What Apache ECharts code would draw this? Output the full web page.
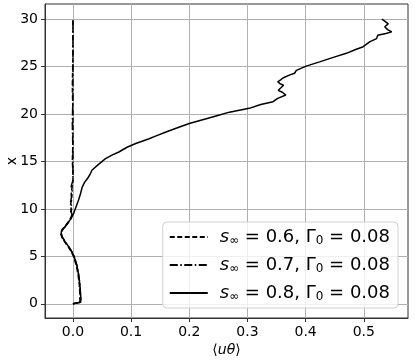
<!DOCTYPE html>
<html>
<head>
<meta charset="utf-8">
<script src="https://cdn.jsdelivr.net/npm/echarts@6/dist/echarts.min.js"></script>
<style>
  html, body { margin: 0; padding: 0; background: #fff; }
  #chart { width: 415px; height: 363px; }
</style>
</head>
<body>
<div id="chart"></div>
<script>
// tick labels
var xTicks = [0, 0.1, 0.2, 0.3, 0.4, 0.5];
var yTicks = [0, 5, 10, 15, 20, 25, 30];

// s_inf = 0.8 (solid): height x and <u theta>
var hS08 = [0, 0.15, 0.5, 1, 2, 3, 4, 5, 5.5, 6, 6.5, 7, 7.3, 7.6, 8, 8.5, 9, 9.5, 10, 10.5, 11, 11.6, 12.3, 12.8, 13.2, 13.6, 14.1, 14.7, 15.3, 15.7, 16.0, 16.5, 16.9, 17.4, 17.7, 18.1, 18.6, 19.0, 19.4, 19.8, 20.2, 20.6, 21.0, 21.3, 21.65, 22.0, 22.3, 22.5, 22.8, 23.05, 23.2, 23.4, 23.6, 23.8, 24.1, 24.3, 24.6, 25.05, 25.5, 26.0, 26.4, 26.8, 27.1, 27.6, 27.95, 28.3, 28.5, 28.66, 28.9, 29.2, 29.5, 29.8, 30.0];
var uS08 = [0.0, 0.013, 0.014, 0.013, 0.012, 0.010, 0.007, 0.002, -0.002, -0.007, -0.013, -0.018, -0.020, -0.020, -0.015, -0.009, -0.003, 0.001, 0.004, 0.007, 0.010, 0.013, 0.016, 0.020, 0.025, 0.029, 0.033, 0.044, 0.056, 0.068, 0.079, 0.093, 0.108, 0.131, 0.143, 0.160, 0.182, 0.200, 0.223, 0.246, 0.269, 0.303, 0.323, 0.344, 0.352, 0.366, 0.360, 0.353, 0.358, 0.362, 0.356, 0.352, 0.357, 0.361, 0.372, 0.381, 0.384, 0.401, 0.424, 0.449, 0.470, 0.486, 0.499, 0.510, 0.522, 0.524, 0.538, 0.548, 0.541, 0.536, 0.542, 0.536, 0.531];

// s_inf = 0.6 (dashed)
var hS06 = [0, 0.15, 1, 2, 3, 4, 5, 5.5, 6, 6.5, 7, 7.4, 7.8, 8.3, 8.8, 9.3, 9.6, 10, 10.5, 11, 11.5, 12, 12.5, 13, 14, 15, 17, 20, 23, 26, 28, 30];
var uS06 = [0.0, 0.012, 0.012, 0.011, 0.009, 0.006, 0.001, -0.003, -0.008, -0.014, -0.019, -0.021, -0.019, -0.012, -0.006, -0.002, -0.004, -0.003, -0.004, -0.002, -0.003, -0.002, -0.001, 0.0, 0.0, -0.001, 0.0, 0.0, -0.001, 0.0, 0.0, 0.0];

// s_inf = 0.7 (dash-dot)
var hS07 = [0, 0.15, 1, 2, 3, 4, 5, 5.5, 6, 6.5, 7, 7.4, 7.8, 8.3, 8.8, 9.3, 9.7, 10.2, 10.8, 11.3, 11.8, 12.4, 13, 14, 16, 19, 22, 25, 28, 30];
var uS07 = [0.0, 0.013, 0.013, 0.012, 0.010, 0.007, 0.002, -0.002, -0.007, -0.013, -0.018, -0.020, -0.018, -0.011, -0.005, -0.001, -0.003, -0.002, -0.004, -0.002, -0.001, -0.003, 0.0, 0.0, 0.0, -0.001, 0.0, 0.0, 0.0, 0.0];

var names = ['s06', 's07', 's08'];
var labels = { s06: '0.6', s07: '0.7', s08: '0.8' };

function pairs (h, u) {
  var out = [];
  for (var i = 0; i < h.length; i++) {
    out.push([u[i], h[i]]);
  }
  return out;
}

var font = 'DejaVu Sans';
var chart = echarts.init(document.getElementById('chart'));

var option = {
  animation: false,
  backgroundColor: '#fff',
  grid: {
    left: 45, right: 7, top: 4, bottom: 45,
    outerBoundsMode: 'none', containLabel: false,
    show: true, borderColor: '#333', borderWidth: 1, backgroundColor: 'transparent'
  },
  legend: {
    data: names,
    right: 17, bottom: 55,
    orient: 'vertical',
    itemWidth: 38, itemHeight: 10, itemGap: 9,
    padding: [6, 8, 5, 6],
    backgroundColor: 'rgba(255,255,255,0.8)',
    borderColor: '#d0d0d0', borderWidth: 1, borderRadius: 4,
    itemStyle: { opacity: 0 },
    formatter: function (name) {
      return '{i|s}{sub|∞}{t| = ' + labels[name] + ', Γ}{sub|0}{t| = 0.08}';
    },
    textStyle: {
      color: '#000',
      rich: {
        i: { fontFamily: font, fontStyle: 'italic', fontSize: 18, color: '#000', padding: [0, 0, 0, 7] },
        t: { fontFamily: font, fontSize: 18, color: '#000' },
        sub: { fontFamily: font, fontSize: 12, color: '#000', verticalAlign: 'bottom', padding: [8, 0, 0, 0] }
      }
    }
  },
  xAxis: {
    type: 'value',
    min: -0.048, max: 0.576,
    name: '{b|⟨}{i|uθ}{b|⟩}',
    nameLocation: 'middle', nameGap: 25, nameMoveOverlap: false,
    nameTextStyle: {
      rich: {
        b: { fontFamily: font, fontSize: 14, color: '#000' },
        i: { fontFamily: font, fontSize: 14, fontStyle: 'italic', color: '#000' }
      }
    },
    axisLine: { show: true, onZero: false, lineStyle: { color: '#333' } },
    axisTick: { show: true, length: 4, inside: false, customValues: xTicks, lineStyle: { color: '#333' } },
    axisLabel: {
      customValues: xTicks, fontFamily: font, fontSize: 14, color: '#000', margin: 7,
      formatter: function (v) { return v.toFixed(1); }
    },
    splitLine: { show: true, customValues: xTicks, lineStyle: { color: '#b0b0b0', width: 1 } }
  },
  yAxis: {
    type: 'value',
    min: -1.5, max: 31.6,
    name: 'x',
    nameLocation: 'middle', nameGap: 26, nameRotate: 90, nameMoveOverlap: false,
    nameTextStyle: { fontFamily: font, fontSize: 14, color: '#000' },
    axisLine: { show: true, onZero: false, lineStyle: { color: '#333' } },
    axisTick: { show: true, length: 4, customValues: yTicks, lineStyle: { color: '#333' } },
    axisLabel: { customValues: yTicks, fontFamily: font, fontSize: 14, color: '#000', margin: 7 },
    splitLine: { show: true, customValues: yTicks, lineStyle: { color: '#b0b0b0', width: 1 } }
  },
  series: [
    {
      name: 's06', type: 'line', showSymbol: false, symbol: 'none',
      data: pairs(hS06, uS06),
      lineStyle: { color: '#000', width: 1.5, type: [5, 2.5] },
      itemStyle: { color: '#000' }
    },
    {
      name: 's07', type: 'line', showSymbol: false, symbol: 'none',
      data: pairs(hS07, uS07),
      lineStyle: { color: '#000', width: 1.5, type: [8, 2.5, 1.5, 2.5] },
      itemStyle: { color: '#000' }
    },
    {
      name: 's08', type: 'line', showSymbol: false, symbol: 'none',
      data: pairs(hS08, uS08),
      lineStyle: { color: '#000', width: 1.5 },
      itemStyle: { color: '#000' }
    }
  ]
};

chart.setOption(option);
</script>
</body>
</html>
